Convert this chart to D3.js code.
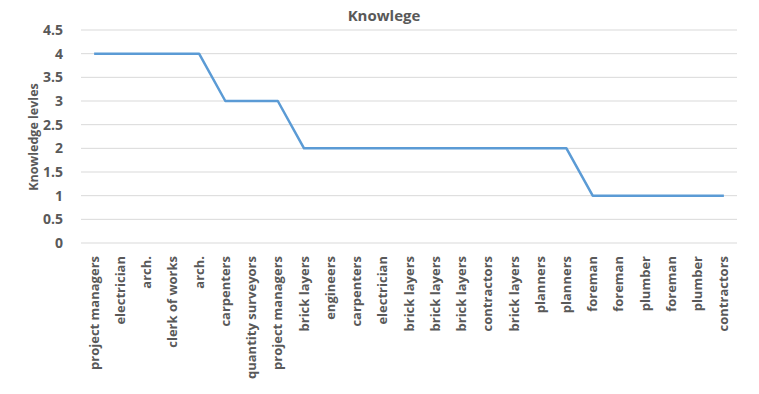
<!DOCTYPE html>
<html>
<head>
<meta charset="utf-8">
<title>Knowlege</title>
<style>
  body { margin: 0; background: #fff; }
  text { font-family: "Open Sans", "Liberation Sans", sans-serif; font-weight: bold; fill: #595959; }
</style>
</head>
<body>
<script src="https://d3js.org/d3.v7.min.js"></script>
<script>
// chart data
var categories = ["project managers", "electrician", "arch.", "clerk of works", "arch.",
  "carpenters", "quantity surveyors", "project managers", "brick layers", "engineers",
  "carpenters", "electrician", "brick layers", "brick layers", "brick layers",
  "contractors", "brick layers", "planners", "planners", "foreman",
  "foreman", "plumber", "foreman", "plumber", "contractors"];
var levels = [4, 4, 4, 4, 4, 3, 3, 3, 2, 2, 2, 2, 2, 2, 2, 2, 2, 2, 2, 1, 1, 1, 1, 1, 1];
var yTicks = [0, 0.5, 1, 1.5, 2, 2.5, 3, 3.5, 4, 4.5];

var width = 759, height = 394;
var margin = {left: 81, right: 22, top: 30, bottom: 151};

var svg = d3.select("body").append("svg")
    .attr("width", width).attr("height", height);

var x = d3.scaleBand()
    .domain(d3.range(categories.length))
    .range([margin.left, width - margin.right]);
var y = d3.scaleLinear()
    .domain([0, 4.5])
    .range([height - margin.bottom, margin.top]);

// gridlines
svg.append("g").selectAll("line")
    .data(yTicks)
    .join("line")
    .attr("x1", margin.left).attr("x2", width - margin.right)
    .attr("y1", d => y(d)).attr("y2", d => y(d))
    .attr("stroke", "#d9d9d9").attr("stroke-width", 1);

// y axis labels
var yAxis = svg.append("g")
    .attr("transform", "translate(" + (margin.left - 15) + ",0)")
    .call(d3.axisLeft(y).tickValues(yTicks).tickSize(0).tickFormat(d3.format("")));
yAxis.select(".domain").remove();
yAxis.selectAll("text")
    .attr("font-size", "14px")
    .attr("font-family", null)
    .attr("fill", null);

// x axis labels
var xAxis = svg.append("g")
    .attr("transform", "translate(0," + y(0) + ")")
    .call(d3.axisBottom(x).tickSize(0).tickFormat(i => categories[i]));
xAxis.select(".domain").remove();
xAxis.selectAll("text")
    .attr("font-size", "13px")
    .attr("font-family", null)
    .attr("fill", null)
    .attr("transform", "rotate(-90)")
    .attr("text-anchor", "end")
    .attr("x", -13)
    .attr("y", 0)
    .attr("dy", "0.35em");

// line
var line = d3.line()
    .x((d, i) => x(i) + x.bandwidth() / 2)
    .y(d => y(d));
svg.append("path")
    .datum(levels)
    .attr("d", line)
    .attr("fill", "none")
    .attr("stroke", "#5b9bd5")
    .attr("stroke-width", 2.5)
    .attr("stroke-linejoin", "round");

// title
svg.append("text")
    .attr("x", 384).attr("y", 21)
    .attr("text-anchor", "middle")
    .attr("font-size", "15px")
    .text("Knowlege");

// y axis title
svg.append("text")
    .attr("transform", "translate(38," + 137 + ") rotate(-90)")
    .attr("text-anchor", "middle")
    .attr("font-size", "12.5px")
    .text("Knowledge levles");
</script>
</body>
</html>
